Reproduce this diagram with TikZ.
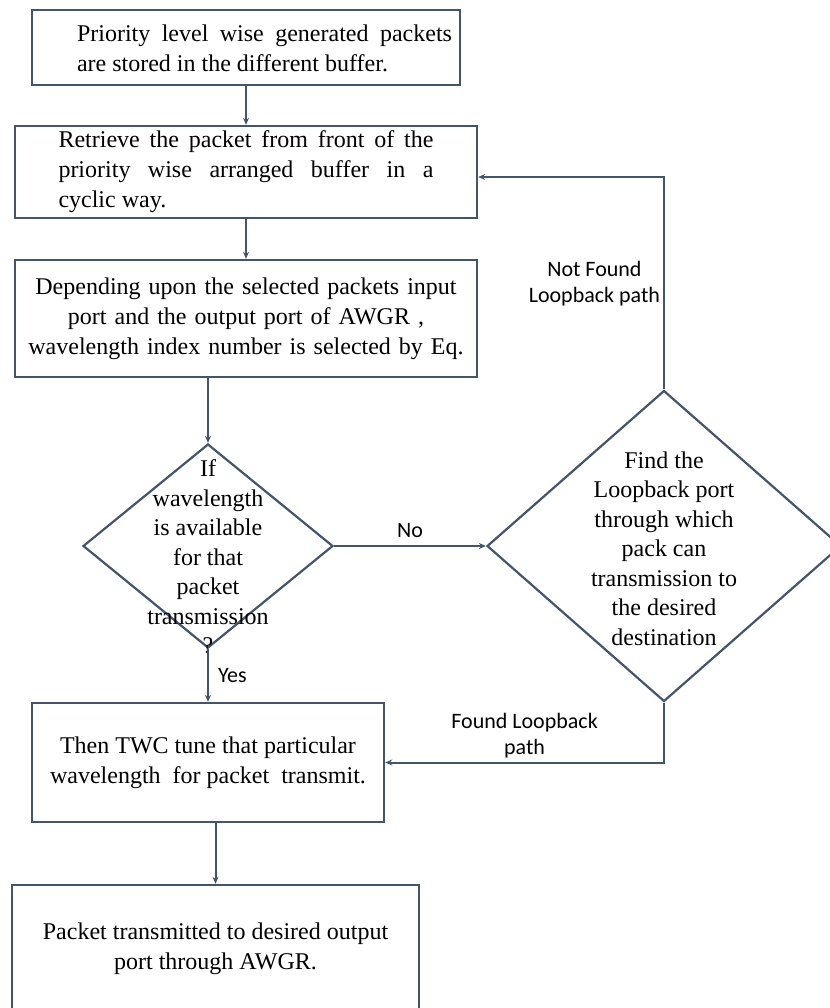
\documentclass[tikz,border=0pt]{standalone}
\usepackage{fontspec}
\setmainfont{Liberation Serif}
\newfontfamily\lblfont{Carlito}
\definecolor{flowline}{RGB}{68, 84, 106}
\usetikzlibrary{arrows.meta, shapes.geometric}

\begin{document}
\begin{tikzpicture}[x=1pt, y=-1pt,
  box/.style={draw=flowline, line width=2.4pt, minimum width=462pt, minimum height=92pt,
              inner sep=0pt, font=\fontsize{24}{30}\selectfont, align=center},
  decide/.style={diamond, draw=flowline, line width=2.2pt, inner sep=0pt},
  txt/.style={font=\fontsize{24}{29.5}\selectfont, align=center, inner sep=0pt},
  flow/.style={draw=flowline, line width=2pt, -{Stealth[length=7pt, width=6pt]}},
  lbl/.style={font=\lblfont\fontsize{22}{26}\selectfont, fill=white, align=center, inner sep=3pt}]

  \useasboundingbox (0,0) rectangle (829,1008);

  % Boxes of the main column
  \node[box, minimum width=428pt, minimum height=75pt] (b1) at (246,47.5) {};
  \node[txt, text width=375pt, align=justify, font=\fontsize{24}{30}\selectfont] (b1txt) at (264.5,48)
    {\noindent Priority level wise generated packets\break are stored in the different buffer.};
  \node[box, text width=375pt, align=justify] (b2) at (246,172)
    {\noindent Retrieve the packet from front of the\break priority wise arranged buffer in a\break cyclic way.};
  \node[box, minimum height=117pt, text width=440pt] (b3) at (246,318.5)
    {Depending upon the selected packets input\\ port and the output port of AWGR ,\\ wavelength index number is selected by Eq.};

  % Decisions
  \node[decide, minimum width=250pt, minimum height=204pt] (d1) at (208,546) {};
  \node[txt] (d1txt) at (208,557)
    {If\\ wavelength\\ is available\\ for that\\ packet\\ transmission\\ ?};
  \node[decide, minimum width=354pt, minimum height=311pt] (d2) at (664,546) {};
  \node[txt] (d2txt) at (664,548.5)
    {Find the\\ Loopback port\\ through which\\ pack can\\ transmission to\\ the desired\\ destination};

  % Lower boxes
  \node[box, minimum width=352pt, minimum height=119pt] (b4) at (208,762.5)
    {Then TWC tune that particular\\ wavelength\ \ for packet\ \ transmit.};
  \node[box, minimum width=407pt, minimum height=128pt] (b5) at (215.5,949)
    {Packet transmitted to desired output\\ port through AWGR.};

  \coordinate (loopin) at (b2.east |- 0,177);

  % Arrows down
  \draw[flow] (b1) -- (b2);
  \draw[flow] (b2) -- (b3);
  \draw[flow] (d1.north |- b3.south) -- (d1.north);
  \draw[flow] (d1) -- (b4) node[lbl, midway, right=6pt] {Yes};
  \draw[flow] (b5.north |- b4.south) -- (b5.north);
  % No branch and loopback paths
  \draw[flow] (d1.east) -- (d2.west) node[lbl, midway, above=4pt] {No};
  \draw[flow] (d2.north) -- (d2.north |- loopin)
    node[lbl, midway, left=0pt] {Not Found\\ Loopback path} -- (loopin);
  \draw[flow] (d2.south) -- (d2.south |- b4.east) -- (b4.east)
    node[lbl, midway, above] {Found Loopback\\ path};
\end{tikzpicture}
\end{document}
